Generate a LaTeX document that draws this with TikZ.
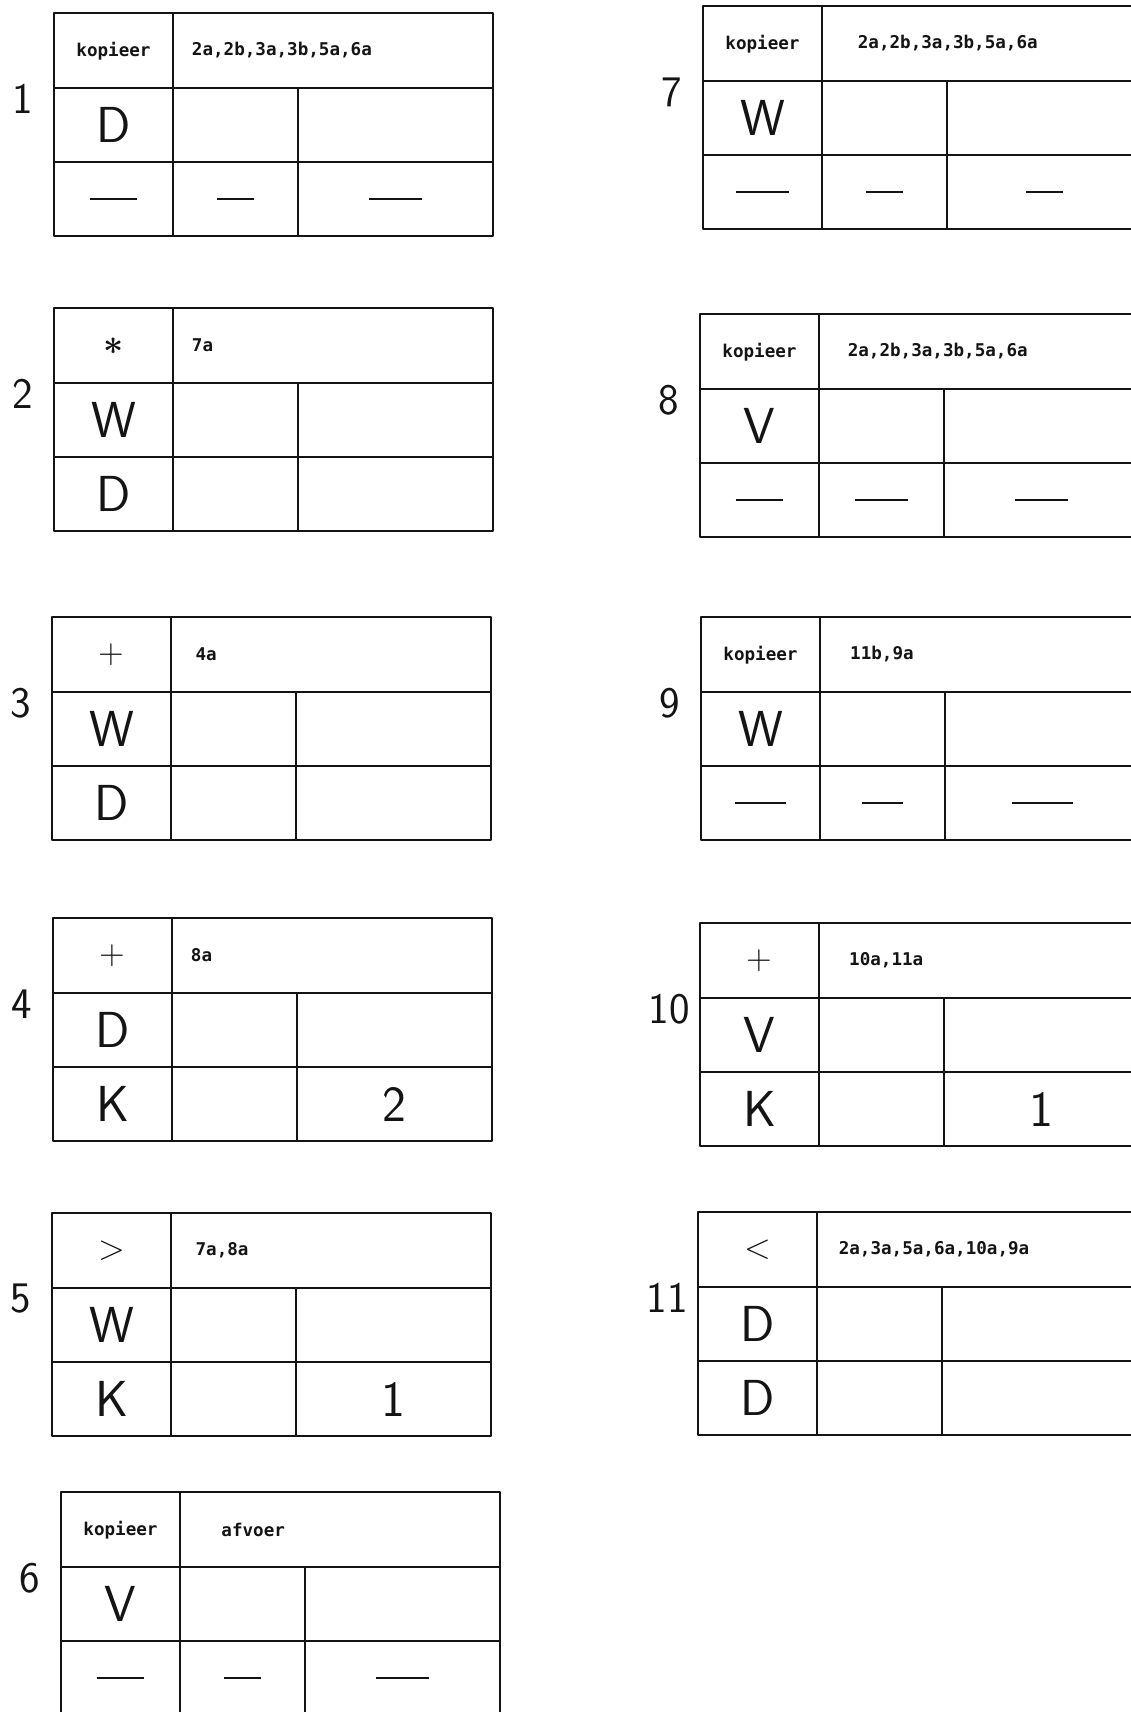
\documentclass[tikz,border=0pt]{standalone}
\usepackage{fontspec}
\setmonofont{DejaVu Sans Mono}
\usepackage{tikz}
\usepackage{xcolor}
\definecolor{inkblack}{RGB}{20,20,20}

\newcommand{\hdrfont}{\ttfamily\bfseries\fontsize{12.5}{13}\selectfont}
\newcommand{\nilbar}[1]{\rule{#1}{1.4pt}}

\tikzset{
  gridline/.style={inkblack, line width=1.4pt, line join=round},
  stepnum/.style={inkblack, font=\sffamily\fontsize{31}{31}\selectfont},
  opsym/.style={inkblack, font=\sffamily\fontsize{25}{25}\selectfont},
  hdrtext/.style={inkblack, font=\hdrfont, anchor=west},
  bigletter/.style={inkblack, font=\sffamily\fontsize{36}{36}\selectfont},
}

% one operation table: #1 number, #2 left, #3 top, #4 operator, #5 operands,
% #6 second row letter, #7-#9 third row cells
\newcommand{\optable}[9]{%
  % frame and rules
  \draw[gridline] (#2,#3) rectangle ({#2+439},{#3+223});
  \draw[gridline] (#2,{#3+75}) -- ({#2+439},{#3+75});
  \draw[gridline] (#2,{#3+149}) -- ({#2+439},{#3+149});
  \draw[gridline] ({#2+119},#3) -- ({#2+119},{#3+223});
  \draw[gridline] ({#2+244},{#3+75}) -- ({#2+244},{#3+223});
  % texts
  \node[stepnum] (num#1) at ({#2-31},{#3+86}) {#1};
  \node[opsym] (op#1) at ({#2+59.5},{#3+38}) {#4};
  \node[hdrtext] (hdr#1) at ({#2+133},{#3+37.5}) {#5};
  \node[bigletter] (reg#1) at ({#2+59.5},{#3+112}) {#6};
  \node[bigletter] (low#1a) at ({#2+59.5},{#3+186}) {#7};
  \node[bigletter] (low#1b) at ({#2+181.5},{#3+186}) {#8};
  \node[bigletter] (low#1c) at ({#2+341.5},{#3+186}) {#9};
}

\begin{document}
\begin{tikzpicture}[x=0.025cm, y=-0.025cm]
    \useasboundingbox (0,0) rectangle (1131,1712);
    \fill[white] (0,0) rectangle (1131,1712);
    \clip (0,0) rectangle (1131,1712);

    % Left column
    \optable{1}{54}{13}{{\hdrfont kopieer}}{2a,2b,3a,3b,5a,6a}{D}{\nilbar{34pt}}{\nilbar{27pt}}{\nilbar{38pt}}
    \optable{2}{54}{308}{{\fontsize{34}{34}\selectfont\boldmath$\ast$}}{7a}{W}{D}{}{}
    \optable{3}{52}{617}{+}{\hspace{4pt}4a}{W}{D}{}{}
    \optable{4}{53}{918}{+}{8a}{D}{K}{}{2}
    \optable{5}{52}{1213}{>}{\hspace{4pt}7a,8a}{W}{K}{}{1}
    \optable{6}{61}{1492}{{\hdrfont kopieer}}{\hspace{16pt}afvoer}{V}{\nilbar{34pt}}{\nilbar{27pt}}{\nilbar{38pt}}

    % Right column (cut off at the page edge)
    \optable{7}{703}{6}{{\hdrfont kopieer}}{\hspace{12pt}2a,2b,3a,3b,5a,6a}{W}{\nilbar{38pt}}{\nilbar{27pt}}{\nilbar{26pt}}
    \optable{8}{700}{314}{{\hdrfont kopieer}}{\hspace{7pt}2a,2b,3a,3b,5a,6a}{V}{\nilbar{34pt}}{\nilbar{37pt}}{\nilbar{38pt}}
    \optable{9}{701}{617}{{\hdrfont kopieer}}{\hspace{8pt}11b,9a}{W}{\nilbar{36pt}}{\nilbar{29pt}}{\nilbar{44pt}}
    \optable{10}{700}{923}{+}{\hspace{8pt}10a,11a}{V}{K}{}{1}
    \optable{11}{698}{1212}{<}{\hspace{2pt}2a,3a,5a,6a,10a,9a}{D}{D}{}{}
\end{tikzpicture}
\end{document}
